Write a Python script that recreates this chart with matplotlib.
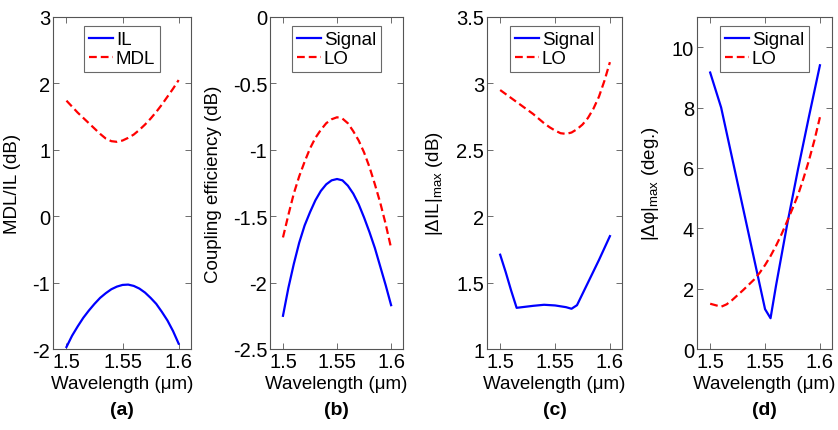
import matplotlib
matplotlib.use("Agg")
import matplotlib.pyplot as plt

plt.rcParams.update({
    'font.family': 'Liberation Sans',
    'mathtext.fontset': 'custom',
    'mathtext.rm': 'Liberation Sans',
    'mathtext.it': 'Liberation Sans:italic',
    'font.size': 13,
    'axes.linewidth': 0.8,
    'xtick.labelsize': 14.5,
    'ytick.labelsize': 14.5,
})

# wavelength grid (um), 5 nm step
wl = [1.50, 1.505, 1.51, 1.515, 1.52, 1.525, 1.53, 1.535, 1.54, 1.545, 1.55,
      1.555, 1.56, 1.565, 1.57, 1.575, 1.58, 1.585, 1.59, 1.595, 1.60]

# (a) insertion loss and mode-dependent loss
il = [-1.97, -1.80, -1.66, -1.53, -1.42, -1.32, -1.23, -1.16, -1.10, -1.06, -1.035,
      -1.03, -1.05, -1.09, -1.15, -1.23, -1.32, -1.44, -1.57, -1.73, -1.92]
mdl = [1.74, 1.65, 1.56, 1.48, 1.40, 1.32, 1.24, 1.17, 1.13, 1.12, 1.14,
       1.18, 1.23, 1.30, 1.38, 1.47, 1.57, 1.68, 1.80, 1.92, 2.05]

# (b) coupling efficiency
ce_sig = [-2.25, -2.04, -1.86, -1.70, -1.57, -1.47, -1.38, -1.31, -1.26, -1.23, -1.22,
          -1.23, -1.27, -1.33, -1.41, -1.51, -1.62, -1.74, -1.88, -2.02, -2.17]
ce_lo = [-1.66, -1.49, -1.33, -1.20, -1.09, -0.99, -0.91, -0.85, -0.80, -0.77, -0.755,
         -0.765, -0.80, -0.86, -0.93, -1.02, -1.13, -1.26, -1.40, -1.56, -1.74]

# (c) max IL deviation
wl_c_sig = [1.50, 1.505, 1.51, 1.515, 1.52, 1.53, 1.54, 1.55, 1.56, 1.565, 1.57, 1.58, 1.59, 1.60]
dil_sig = [1.71, 1.58, 1.44, 1.31, 1.315, 1.325, 1.333, 1.328, 1.315, 1.303, 1.33, 1.50, 1.67, 1.85]
wl_c_lo = [1.50, 1.51, 1.52, 1.53, 1.54, 1.545, 1.55, 1.555, 1.56, 1.565, 1.57,
           1.575, 1.58, 1.585, 1.59, 1.595, 1.60]
dil_lo = [2.95, 2.89, 2.83, 2.77, 2.70, 2.67, 2.645, 2.625, 2.62, 2.63, 2.655,
          2.69, 2.74, 2.81, 2.90, 3.02, 3.16]

# (d) max phase deviation
wl_d_sig = [1.50, 1.51, 1.52, 1.53, 1.54, 1.55, 1.555, 1.56, 1.57, 1.58, 1.59, 1.60]
dphi_sig = [9.16, 8.0, 6.33, 4.66, 2.99, 1.32, 1.02, 2.1, 4.1, 5.95, 7.7, 9.4]
wl_d_lo = [1.50, 1.505, 1.51, 1.515, 1.52, 1.53, 1.54, 1.545, 1.55, 1.555, 1.56,
           1.565, 1.57, 1.575, 1.58, 1.585, 1.59, 1.595, 1.60]
dphi_lo = [1.50, 1.45, 1.40, 1.48, 1.62, 1.95, 2.30, 2.52, 2.78, 3.08, 3.42,
           3.80, 4.22, 4.65, 5.10, 5.65, 6.25, 6.92, 7.68]

W, H = 838, 431
fig = plt.figure(figsize=(W / 100, H / 100), dpi=100)

# axes boxes in pixels: left, right
boxes = [(53, 191), (270, 403), (487, 622), (697, 832)]
top_px, bot_px = 18, 350

panels = [
    dict(x1=wl, y1=il, x2=wl, y2=mdl, labels=('IL', 'MDL'), ylim=(-2, 3),
         yticks=[-2, -1, 0, 1, 2, 3], ylabel='MDL/IL (dB)', tag='(a)'),
    dict(x1=wl, y1=ce_sig, x2=wl, y2=ce_lo, labels=('Signal', 'LO'), ylim=(-2.5, 0),
         yticks=[-2.5, -2, -1.5, -1, -0.5, 0], ylabel='Coupling efficiency (dB)', tag='(b)'),
    dict(x1=wl_c_sig, y1=dil_sig, x2=wl_c_lo, y2=dil_lo, labels=('Signal', 'LO'), ylim=(1, 3.5),
         yticks=[1, 1.5, 2, 2.5, 3, 3.5], ylabel=r'|$\Delta$IL|$_{\mathrm{max}}$ (dB)', tag='(c)'),
    dict(x1=wl_d_sig, y1=dphi_sig, x2=wl_d_lo, y2=dphi_lo, labels=('Signal', 'LO'), ylim=(0, 11),
         yticks=[0, 2, 4, 6, 8, 10], ylabel=r'|$\Delta$φ|$_{\mathrm{max}}$ (deg.)', tag='(d)'),
]

for (l, r), p in zip(boxes, panels):
    ax = fig.add_axes([l / W, 1 - bot_px / H, (r - l) / W, (bot_px - top_px) / H])
    ax.plot(p['x1'], p['y1'], color='#0000ff', lw=1.6, label=p['labels'][0])
    ax.plot(p['x2'], p['y2'], color='#ff0000', lw=1.6, ls=(0, (3.5, 1.8)), label=p['labels'][1])
    ax.set_xlim(1.488, 1.611)
    ax.set_ylim(*p['ylim'])
    ax.set_xticks([1.5, 1.55, 1.6])
    ax.set_xticklabels(['1.5', '1.55', '1.6'])
    ax.set_yticks(p['yticks'])
    ax.set_yticklabels(['%g' % v for v in p['yticks']])
    ax.tick_params(direction='in', top=True, right=True, length=4, width=0.6,
                   color='#555555', pad=2)
    for s in ax.spines.values():
        s.set_color('#555555')
    ax.set_ylabel(p['ylabel'], fontsize=13.5, labelpad=8)
    ax.set_xlabel('Wavelength (μm)', fontsize=13.5, labelpad=3)
    leg = ax.legend(loc='upper center', fontsize=13.5, frameon=True, fancybox=False,
                    handlelength=1.3, handletextpad=0.15, borderpad=0.25,
                    labelspacing=0.1, borderaxespad=0.5)
    leg.get_frame().set_edgecolor('#444444')
    leg.get_frame().set_linewidth(0.8)
    ax.text(0.5, -0.182, p['tag'], transform=ax.transAxes, ha='center', va='center',
            fontsize=14, fontweight='bold')

fig.savefig('out.png', dpi=100)
